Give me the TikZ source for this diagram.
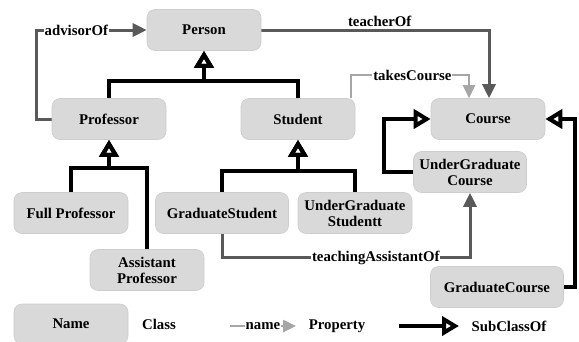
\documentclass[tikz,border=0pt]{standalone}
\usepackage{fontspec}
\setmainfont{Liberation Serif}
\usepackage{tikz}
\usetikzlibrary{arrows.meta}
\pgfdeclarelayer{edgelayer}
\pgfdeclarelayer{nodelayer}
\pgfsetlayers{edgelayer,nodelayer,main}
\definecolor{boxgray}{RGB}{217,217,217}
\definecolor{rimgray}{RGB}{205,205,205}
\definecolor{propgray}{RGB}{89,89,89}
\definecolor{lightprop}{RGB}{166,166,166}
\tikzstyle{class_box}=[rectangle,rounded corners=8pt,fill=boxgray,draw=rimgray,line width=0.6pt,minimum width=114pt,minimum height=41pt,inner sep=2pt,align=center,font=\fontsize{14.8}{16}\selectfont\bfseries]
\tikzstyle{plain_text}=[inner sep=1pt,font=\fontsize{14.8}{16}\selectfont\bfseries]
\tikzstyle{edge_label}=[fill=white,inner sep=1pt,text=black,font=\fontsize{14.8}{16}\selectfont\bfseries]
\tikzstyle{property}=[-{Triangle[length=14pt,width=13pt]},draw=propgray,line width=3pt]
\tikzstyle{light_property}=[-{Triangle[length=13pt,width=12pt]},draw=lightprop,line width=2.5pt]
\tikzstyle{subclass}=[-{Triangle[open,length=17pt,width=19pt,line width=4pt]},draw=black,line width=3.5pt]

\begin{document}
\begin{tikzpicture}[x=1pt,y=-1pt]
	\useasboundingbox (0,0) rectangle (579,341);
	\begin{pgfonlayer}{nodelayer}
		\node [style={class_box}] (0) at (204, 30) {Person};
		\node [style={class_box}] (1) at (109, 119) {Professor};
		\node [style={class_box}] (2) at (298, 119) {Student};
		\node [style={class_box}] (3) at (488, 119) {Course};
		\node [style={class_box}, minimum width=113pt] (4) at (470, 172) {UnderGraduate\\Course};
		\node [style={class_box}] (5) at (71, 213) {Full Professor};
		\node [style={class_box}, minimum width=133pt] (6) at (222, 213) {GraduateStudent};
		\node [style={class_box}] (7) at (355, 213) {UnderGraduate\\Studentt};
		\node [style={class_box}] (8) at (147, 270) {Assistant\\Professor};
		\node [style={class_box}, minimum width=133pt] (9) at (497, 287) {GraduateCourse};
		\node [style={class_box}, minimum height=40pt] (10) at (71, 324) {Name};
		\node [style={plain_text}] (11) at (159, 324) {Class};
		\coordinate (12) at (230, 326);
		\coordinate (13) at (296, 326);
		\node [style={plain_text}] (14) at (337, 326) {Property};
		\coordinate (15) at (399, 326);
		\coordinate (16) at (459, 326);
		\node [style={plain_text}] (17) at (509, 326) {SubClassOf};
	\end{pgfonlayer}
	\begin{pgfonlayer}{edgelayer}
		\draw [style=subclass] (1.north) -- ++(0,-17) -| (0.south);
		\draw [style=subclass] (2.north) -- ++(0,-17) -| (0.south);
		\draw [style=subclass] (5.north) -- ++(0,-24) -| (1.south);
		\draw [style=subclass] (8.north) -- ++(0,-81) -| (1.south);
		\draw [style=subclass] (6.north) -- ++(0,-21) -| (2.south);
		\draw [style=subclass] (7.north) -- ++(0,-21) -| (2.south);
		\draw [style=subclass] (4.west) -- ++(-29,0) |- (3.west);
		\draw [style=subclass] (9.east) -- ++(11,0) |- (3.east);
		\draw [style=property] (1.west) -- ++(-15,0) |- node[style={edge_label}, pos=0.68]{advisorOf} (0.west);
		\draw [style=property] (0.east) -| node[style={plain_text}, pos=0.26, anchor=south, yshift=1pt]{teacherOf} ([xshift=1pt]3.north);
		\draw [style={light_property}] ([xshift=53pt]2.north) -- ++(0,-23) -| node[style={edge_label}, pos=0.26]{takesCourse} ([xshift=-19pt]3.north);
		\draw [style=property] (6.south) -- ++(0,24) -| node[style={edge_label}, pos=0.31]{teachingAssistantOf} (4.south);
		\draw [style={light_property}] (12) to node[style={edge_label}, pos=0.5]{name} (13);
		\draw [style=subclass] (15) to (16);
	\end{pgfonlayer}
\end{tikzpicture}
\end{document}
